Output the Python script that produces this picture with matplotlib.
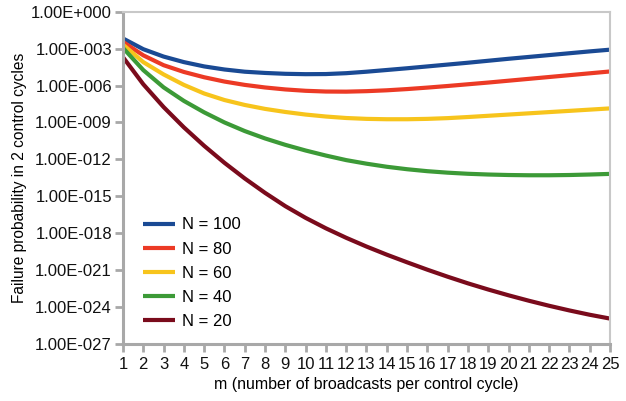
import matplotlib
matplotlib.use('Agg')
import matplotlib.pyplot as plt
import numpy as np

# m values (broadcasts per control cycle)
m = list(range(1, 26))

# log10 of failure probability
n100_log = [-2.18, -3.05, -3.65, -4.1, -4.45, -4.7, -4.88, -4.98, -5.05, -5.08,
            -5.07, -5.0, -4.88, -4.74, -4.6, -4.45, -4.3, -4.15, -3.99, -3.83,
            -3.68, -3.53, -3.38, -3.23, -3.09]
n80_log = [-2.46, -3.55, -4.35, -4.9, -5.33, -5.68, -5.95, -6.16, -6.32, -6.43,
           -6.49, -6.5, -6.46, -6.39, -6.29, -6.17, -6.04, -5.9, -5.76, -5.61,
           -5.46, -5.31, -5.16, -5.01, -4.86]
n60_log = [-2.68, -4.1, -5.1, -5.95, -6.65, -7.18, -7.58, -7.9, -8.15, -8.36,
           -8.52, -8.64, -8.71, -8.74, -8.74, -8.71, -8.65, -8.56, -8.46, -8.36,
           -8.26, -8.16, -8.06, -7.96, -7.86]
n40_log = [-2.95, -4.75, -6.15, -7.25, -8.18, -9.0, -9.7, -10.3, -10.82, -11.28,
           -11.69, -12.06, -12.35, -12.6, -12.8, -12.96, -13.08, -13.17, -13.23, -13.27,
           -13.29, -13.29, -13.27, -13.23, -13.18]
n20_log = [-3.7, -5.9, -7.75, -9.4, -10.9, -12.28, -13.55, -14.72, -15.8, -16.75,
           -17.6, -18.37, -19.08, -19.74, -20.36, -20.96, -21.53, -22.07, -22.57, -23.04,
           -23.48, -23.89, -24.27, -24.62, -24.93]

series = [('N = 100', n100_log, '#1a4a94'),
          ('N = 80', n80_log, '#ec3a25'),
          ('N = 60', n60_log, '#f7c41c'),
          ('N = 40', n40_log, '#3c9a37'),
          ('N = 20', n20_log, '#7a0b1c')]

y_ticks = [1e0, 1e-3, 1e-6, 1e-9, 1e-12, 1e-15, 1e-18, 1e-21, 1e-24, 1e-27]
y_labels = ['1.00E+000', '1.00E-003', '1.00E-006', '1.00E-009', '1.00E-012',
            '1.00E-015', '1.00E-018', '1.00E-021', '1.00E-024', '1.00E-027']

plt.rcParams['font.family'] = ['Liberation Sans', 'DejaVu Sans']

fig = plt.figure(figsize=(6.26, 4.01), dpi=100)
ax = fig.add_axes([0.1965, 0.142, 0.7779, 0.829])

for label, vals, color in series:
    ax.plot(m, 10.0 ** np.array(vals), color=color, lw=3.0, label=label,
            solid_capstyle='butt', solid_joinstyle='round')

ax.set_yscale('log')
ax.set_ylim(1e-27, 1e0)
ax.set_xlim(1, 25)
ax.set_yticks(y_ticks)
ax.set_yticklabels(y_labels)
ax.minorticks_off()
ax.set_xticks(m)
ax.set_xticklabels([str(v) for v in m])

for side in ['left', 'bottom']:
    ax.spines[side].set_color('#a8a8a8')
    ax.spines[side].set_linewidth(2.2)
for side in ['top', 'right']:
    ax.spines[side].set_color('#c8c8c8')
    ax.spines[side].set_linewidth(1.5)

ax.tick_params(axis='both', direction='out', color='#a8a8a8', width=2,
               labelsize=12, labelcolor='#111111')
ax.tick_params(axis='y', length=6, pad=2)
ax.tick_params(axis='x', length=6, pad=3)

ax.set_xlabel('m (number of broadcasts per control cycle)', fontsize=11.5, labelpad=4)
ax.set_ylabel('Failure probability in 2 control cycles', fontsize=11.2, labelpad=3)

ax.legend(loc='lower left', frameon=False, fontsize=12, handlelength=1.9,
          handletextpad=0.45, labelspacing=0.55, borderaxespad=0.5,
          borderpad=0.4, bbox_to_anchor=(0.01, 0.0))

fig.savefig('out.png', dpi=100)
